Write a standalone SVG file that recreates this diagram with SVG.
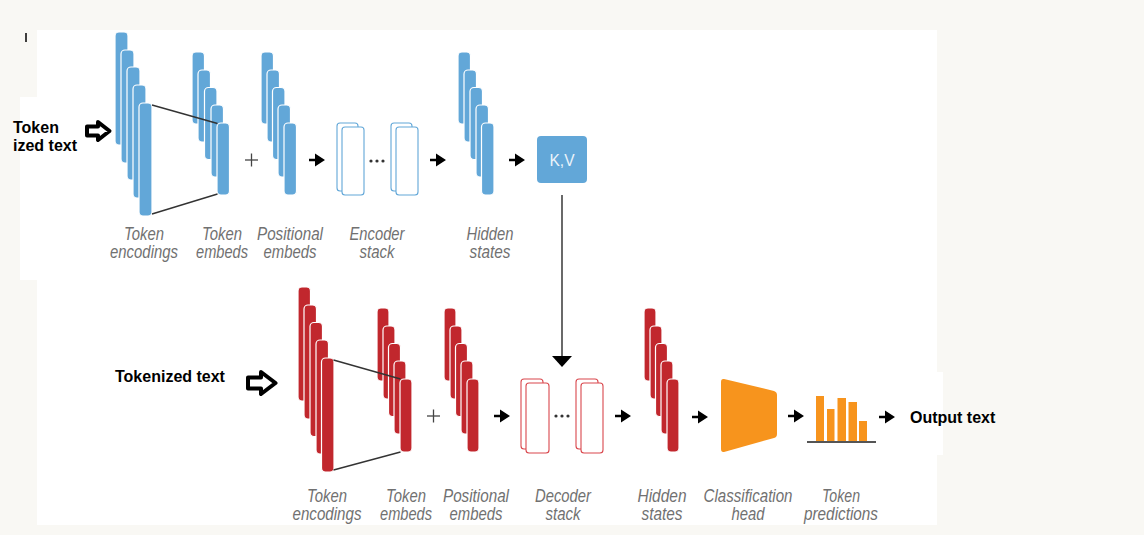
<svg xmlns="http://www.w3.org/2000/svg" width="1144" height="535" viewBox="0 0 1144 535">
<style>
.b{fill:#62a7d8;stroke:#fff;stroke-width:1.2}
.r{fill:#c1272d;stroke:#fff;stroke-width:1.2}
.eb{fill:#fff;stroke:#62a7d8;stroke-width:1.1}
.db{fill:#fff;stroke:#d9474d;stroke-width:1.1}
.lab{font-family:"Liberation Sans",Arial,sans-serif;font-style:italic;font-size:18px;fill:#717171;text-anchor:middle}
.bold{font-family:"Liberation Sans",Arial,sans-serif;font-weight:bold;font-size:16px;fill:#000}
.ln{stroke:#333;stroke-width:1.4;fill:none}
.plus{stroke:#444;stroke-width:1.3}
.dot{fill:#333}
</style>
<defs>
<path id="arr" d="M0,-1.3 H6 V-6.5 L16,0 L6,6.5 V1.3 H0 Z" fill="#000"/>
</defs>
<rect width="1144" height="535" fill="#f9f8f4"/>
<rect x="37" y="30" width="900" height="495" fill="#fff"/>
<rect x="20" y="97" width="20" height="183" fill="#fff"/>
<rect x="895" y="372" width="48" height="83" fill="#fff"/>
<line x1="26" y1="33" x2="26" y2="42" stroke="#000" stroke-width="1.5"/>

<g id="input-top">
<text class="bold" x="13" y="133">Token</text>
<text class="bold" x="13" y="151">ized text</text>
<path d="M87,126.5 H98 V122 L109.5,131 L98,140 V135.5 H87 Z" fill="#fff" stroke="#000" stroke-width="4" stroke-linejoin="round"/>
</g>

<g id="enc-token-encodings">
<rect class="b" x="115" y="32" width="13" height="113" rx="4"/>
<rect class="b" x="121" y="50" width="13" height="113" rx="4"/>
<rect class="b" x="127" y="67" width="13" height="113" rx="4"/>
<rect class="b" x="133" y="85" width="13" height="113" rx="4"/>
<rect class="b" x="139" y="103" width="13" height="113" rx="4"/>
<text class="lab" x="144" y="240" textLength="40" lengthAdjust="spacingAndGlyphs">Token</text>
<text class="lab" x="144" y="258" textLength="68" lengthAdjust="spacingAndGlyphs">encodings</text>
</g>

<g id="enc-token-embeds">
<rect class="b" x="192" y="52" width="12.5" height="72" rx="4"/>
<rect class="b" x="198" y="70" width="12.5" height="72" rx="4"/>
<rect class="b" x="204.5" y="87.5" width="12.5" height="72" rx="4"/>
<rect class="b" x="211" y="105" width="12.5" height="72" rx="4"/>
<rect class="b" x="217" y="123" width="12.5" height="72" rx="4"/>
<text class="lab" x="222" y="240" textLength="40" lengthAdjust="spacingAndGlyphs">Token</text>
<text class="lab" x="222" y="258" textLength="52" lengthAdjust="spacingAndGlyphs">embeds</text>
</g>

<g id="enc-plus">
<line class="plus" x1="245" y1="160" x2="258" y2="160"/>
<line class="plus" x1="251.5" y1="153.5" x2="251.5" y2="166.5"/>
</g>

<g id="enc-positional-embeds">
<rect class="b" x="261" y="52" width="12.5" height="72" rx="4"/>
<rect class="b" x="267" y="70" width="12.5" height="72" rx="4"/>
<rect class="b" x="272.5" y="87.5" width="12.5" height="72" rx="4"/>
<rect class="b" x="278" y="105" width="12.5" height="72" rx="4"/>
<rect class="b" x="284" y="123" width="12.5" height="72" rx="4"/>
<text class="lab" x="290" y="240" textLength="66" lengthAdjust="spacingAndGlyphs">Positional</text>
<text class="lab" x="290" y="258" textLength="53" lengthAdjust="spacingAndGlyphs">embeds</text>
</g>

<g id="encoder-stack">
<rect class="eb" x="337" y="123" width="21" height="68" rx="3"/>
<rect class="eb" x="342" y="127" width="22" height="68" rx="3"/>
<rect class="eb" x="391" y="123" width="21" height="68" rx="3"/>
<rect class="eb" x="396" y="127" width="22" height="68" rx="3"/>
<circle class="dot" cx="371" cy="161" r="1.6"/>
<circle class="dot" cx="377" cy="161" r="1.6"/>
<circle class="dot" cx="383" cy="161" r="1.6"/>
<text class="lab" x="377" y="240" textLength="55" lengthAdjust="spacingAndGlyphs">Encoder</text>
<text class="lab" x="377" y="258" textLength="35" lengthAdjust="spacingAndGlyphs">stack</text>
</g>

<g id="enc-hidden-states">
<rect class="b" x="458" y="52" width="12.5" height="72" rx="4"/>
<rect class="b" x="464" y="70" width="12.5" height="72" rx="4"/>
<rect class="b" x="470" y="87.5" width="12.5" height="72" rx="4"/>
<rect class="b" x="476" y="105" width="12.5" height="72" rx="4"/>
<rect class="b" x="481.5" y="123" width="12.5" height="72" rx="4"/>
<text class="lab" x="490" y="240" textLength="47" lengthAdjust="spacingAndGlyphs">Hidden</text>
<text class="lab" x="490" y="258" textLength="41" lengthAdjust="spacingAndGlyphs">states</text>
</g>

<g id="kv">
<rect x="537" y="136" width="50" height="47" rx="4" fill="#62a7d8"/>
<text x="562" y="166" text-anchor="middle" font-family="Liberation Sans,Arial,sans-serif" font-size="16" fill="#eaf3fa" textLength="25" lengthAdjust="spacingAndGlyphs">K,V</text>
</g>

<g id="input-bottom">
<text class="bold" x="115" y="382">Tokenized text</text>
<path d="M248,377.5 H261 V372 L275.5,383 L261,394 V388.5 H248 Z" fill="#fff" stroke="#000" stroke-width="4" stroke-linejoin="round"/>
</g>

<g id="dec-token-encodings">
<rect class="r" x="298" y="287" width="12.5" height="114" rx="4"/>
<rect class="r" x="304" y="305" width="12.5" height="114" rx="4"/>
<rect class="r" x="310" y="322.5" width="12.5" height="114" rx="4"/>
<rect class="r" x="316" y="340" width="12.5" height="114" rx="4"/>
<rect class="r" x="321.5" y="358" width="12.5" height="114" rx="4"/>
<text class="lab" x="327" y="502" textLength="40" lengthAdjust="spacingAndGlyphs">Token</text>
<text class="lab" x="327" y="520" textLength="69" lengthAdjust="spacingAndGlyphs">encodings</text>
</g>

<g id="dec-token-embeds">
<rect class="r" x="377" y="308" width="12" height="73" rx="4"/>
<rect class="r" x="383" y="326" width="12" height="73" rx="4"/>
<rect class="r" x="388.5" y="343.5" width="12" height="73" rx="4"/>
<rect class="r" x="394" y="361" width="12" height="73" rx="4"/>
<rect class="r" x="400" y="379" width="12" height="73" rx="4"/>
<text class="lab" x="406" y="502" textLength="40" lengthAdjust="spacingAndGlyphs">Token</text>
<text class="lab" x="406" y="520" textLength="52" lengthAdjust="spacingAndGlyphs">embeds</text>
</g>

<g id="dec-plus">
<line class="plus" x1="427" y1="416" x2="440" y2="416"/>
<line class="plus" x1="433.5" y1="409.5" x2="433.5" y2="422.5"/>
</g>

<g id="dec-positional-embeds">
<rect class="r" x="444" y="308" width="12" height="73" rx="4"/>
<rect class="r" x="450" y="326" width="12" height="73" rx="4"/>
<rect class="r" x="455.5" y="343.5" width="12" height="73" rx="4"/>
<rect class="r" x="461" y="361" width="12" height="73" rx="4"/>
<rect class="r" x="467" y="379" width="12" height="73" rx="4"/>
<text class="lab" x="476" y="502" textLength="66" lengthAdjust="spacingAndGlyphs">Positional</text>
<text class="lab" x="476" y="520" textLength="53" lengthAdjust="spacingAndGlyphs">embeds</text>
</g>

<g id="decoder-stack">
<rect class="db" x="521" y="379" width="22" height="70" rx="3"/>
<rect class="db" x="526" y="383" width="23" height="70" rx="3"/>
<rect class="db" x="576" y="379" width="22" height="70" rx="3"/>
<rect class="db" x="581" y="383" width="22" height="70" rx="3"/>
<circle class="dot" cx="556" cy="416" r="1.6"/>
<circle class="dot" cx="562" cy="416" r="1.6"/>
<circle class="dot" cx="568" cy="416" r="1.6"/>
<text class="lab" x="563" y="502" textLength="56" lengthAdjust="spacingAndGlyphs">Decoder</text>
<text class="lab" x="563" y="520" textLength="35" lengthAdjust="spacingAndGlyphs">stack</text>
</g>

<g id="dec-hidden-states">
<rect class="r" x="644" y="308" width="12" height="73" rx="4"/>
<rect class="r" x="650" y="326" width="12" height="73" rx="4"/>
<rect class="r" x="655.5" y="343.5" width="12" height="73" rx="4"/>
<rect class="r" x="661" y="361" width="12" height="73" rx="4"/>
<rect class="r" x="667" y="379" width="12" height="73" rx="4"/>
<text class="lab" x="662" y="502" textLength="49" lengthAdjust="spacingAndGlyphs">Hidden</text>
<text class="lab" x="662" y="520" textLength="41" lengthAdjust="spacingAndGlyphs">states</text>
</g>

<g id="classification-head">
<path d="M724,379 L774,391 Q777,392 777,395 L777,434 Q777,437 774,438 L724,452 Q721,452.5 721,449 V382 Q721,378.5 724,379 Z" fill="#f7941d"/>
<text class="lab" x="748" y="502" textLength="89" lengthAdjust="spacingAndGlyphs">Classification</text>
<text class="lab" x="748" y="520" textLength="33" lengthAdjust="spacingAndGlyphs">head</text>
</g>

<g id="token-predictions">
<rect x="816" y="396" width="8" height="46" fill="#f7941d"/>
<rect x="827" y="409" width="7.5" height="33" fill="#f7941d"/>
<rect x="837.5" y="398" width="8.5" height="44" fill="#f7941d"/>
<rect x="848.5" y="402" width="8.5" height="40" fill="#f7941d"/>
<rect x="859" y="421" width="8" height="21" fill="#f7941d"/>
<line x1="807" y1="442" x2="876" y2="442" stroke="#555" stroke-width="2"/>
<text class="lab" x="841" y="502" textLength="38" lengthAdjust="spacingAndGlyphs">Token</text>
<text class="lab" x="841" y="520" textLength="74" lengthAdjust="spacingAndGlyphs">predictions</text>
</g>

<g id="output">
<text class="bold" x="910" y="423">Output text</text>
</g>

<g id="connectors">
<line class="ln" x1="152" y1="105" x2="217.5" y2="123.5"/>
<line class="ln" x1="152" y1="214" x2="217.5" y2="194"/>
<line class="ln" x1="333.5" y1="360" x2="400.5" y2="379"/>
<line class="ln" x1="333.5" y1="470" x2="400.5" y2="452"/>
<use href="#arr" x="309" y="160"/>
<use href="#arr" x="430" y="160"/>
<use href="#arr" x="509" y="160"/>
<use href="#arr" x="494" y="416"/>
<use href="#arr" x="615" y="416"/>
<use href="#arr" x="692" y="417"/>
<use href="#arr" x="788" y="416"/>
<use href="#arr" x="879" y="417"/>
<line x1="562" y1="195" x2="562" y2="357" stroke="#444" stroke-width="1.6"/>
<polygon points="552,356 572,356 562,367" fill="#000"/>
</g>
</svg>
